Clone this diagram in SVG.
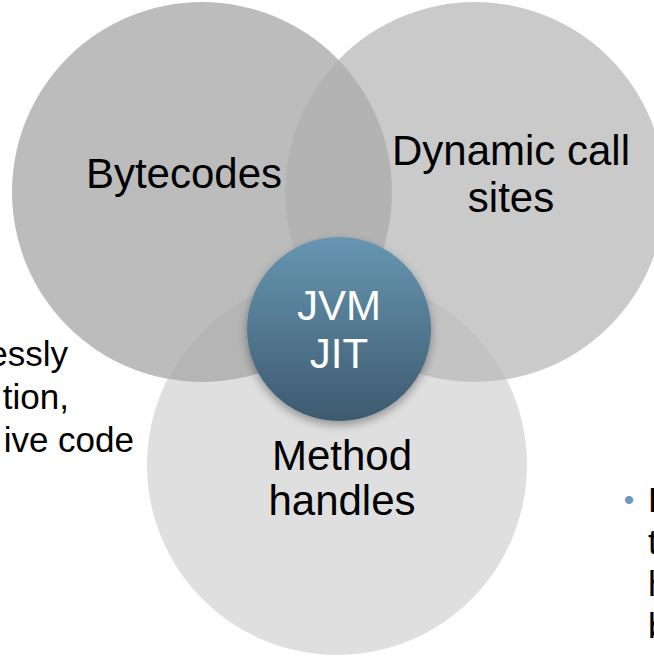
<svg xmlns="http://www.w3.org/2000/svg" width="654" height="657" viewBox="0 0 654 657">
<style>
.lbl{font-family:"Liberation Sans",Arial,sans-serif;font-size:42px;fill:#000;text-anchor:middle}
.side{font-family:"Liberation Sans",Arial,sans-serif;font-size:35px;fill:#000}
.core{font-family:"Liberation Sans",Arial,sans-serif;font-size:42px;fill:#fff;text-anchor:middle}
</style>
<defs>
<clipPath id="c1"><circle cx="202" cy="192" r="190"/></clipPath>
<clipPath id="c2"><circle cx="475" cy="192" r="190"/></clipPath>
<linearGradient id="g" x1="0" y1="0" x2="0" y2="1">
<stop offset="0" stop-color="#6796b2"/>
<stop offset="1" stop-color="#3d5a6f"/>
</linearGradient>
<filter id="sh" x="-30%" y="-30%" width="160%" height="170%">
<feDropShadow dx="0" dy="4" stdDeviation="5" flood-color="#000" flood-opacity="0.35"/>
</filter>
</defs>
<g id="side-text">
<text class="side" x="68" y="366" text-anchor="end">essly</text>
<text class="side" x="69" y="409" text-anchor="end">tion,</text>
<text class="side" x="134" y="452" text-anchor="end">ive code</text>
<text x="629" y="510" font-family="Liberation Sans,Arial,sans-serif" font-size="30px" fill="#6a9aba" text-anchor="middle">•</text>
<text class="side" x="648" y="512">B</text>
<text class="side" x="648" y="554">t</text>
<text class="side" x="648" y="596">h</text>
<text class="side" x="648" y="638">b</text>
</g>
<g id="bytecodes">
<circle cx="202" cy="192" r="190" fill="#bcbcbc"/>
</g>
<g id="dynamic-call-sites">
<circle cx="475" cy="192" r="190" fill="#cacaca"/>
</g>
<g id="method-handles">
<circle cx="337" cy="465" r="190" fill="#dfdfdf"/>
</g>
<g id="overlaps">
<circle cx="475" cy="192" r="190" fill="#b3b3b3" clip-path="url(#c1)"/>
<circle cx="337" cy="465" r="190" fill="#b5b5b5" clip-path="url(#c1)"/>
<g clip-path="url(#c2)"><circle cx="337" cy="465" r="190" fill="#c3c3c3"/></g>
</g>
<g id="labels">
<text class="lbl" x="184" y="188">Bytecodes</text>
<text class="lbl" x="511" y="165">Dynamic call</text>
<text class="lbl" x="511" y="212">sites</text>
<text class="lbl" x="342" y="470">Method</text>
<text class="lbl" x="342" y="515">handles</text>
</g>
<g id="jvm-jit">
<circle cx="339" cy="329" r="92" fill="url(#g)" filter="url(#sh)"/>
<text class="core" x="339" y="320">JVM</text>
<text class="core" x="339" y="368">JIT</text>
</g>
</svg>
